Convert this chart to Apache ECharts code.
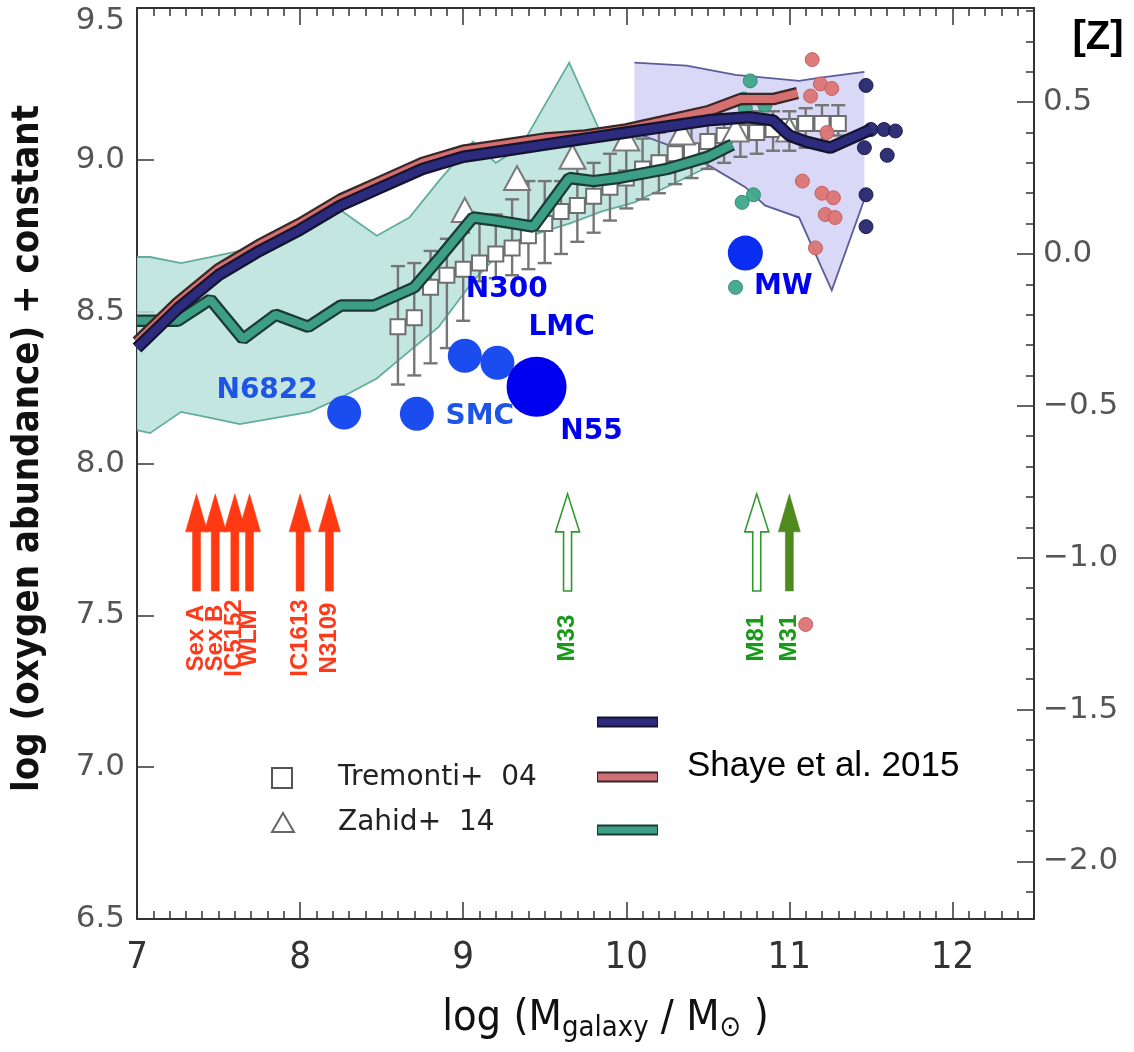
<!DOCTYPE html>
<html>
<head>
<meta charset="utf-8">
<script src="https://cdn.jsdelivr.net/npm/echarts@6.0.0/dist/echarts.min.js"></script>
<style>
  html, body { margin: 0; padding: 0; background: #fff; }
  #chart { width: 1134px; height: 1052px; }
</style>
</head>
<body>
<div id="chart"></div>
<script>
// ---------- axis ticks ----------
const massTicks = [7, 8, 9, 10, 11, 12];
const ohTicks = [6.5, 7.0, 7.5, 8.0, 8.5, 9.0, 9.5];
const zTicks = [-2.0, -1.5, -1.0, -0.5, 0.0, 0.5];
const SOLAR_OH = 8.69;            // [Z] = log(O/H)+12 - solar
const MASS_MIN = 7, MASS_MAX = 12.5;
const OH_MIN = 6.5, OH_MAX = 9.5;

// ---------- Shaye et al. 2015 relations ----------
const navyMass = [7.0, 7.25, 7.5, 7.75, 8.0, 8.25, 8.5, 8.75, 9.0, 9.25, 9.5, 9.75, 10.0, 10.25, 10.5, 10.75, 10.9, 11.0, 11.1, 11.25, 11.5];
const navyOH   = [8.38, 8.51, 8.62, 8.70, 8.77, 8.85, 8.91, 8.97, 9.01, 9.03, 9.05, 9.07, 9.09, 9.11, 9.13, 9.14, 9.13, 9.08, 9.06, 9.04, 9.10];

const pinkMass = [7.0, 7.25, 7.5, 7.75, 8.0, 8.25, 8.5, 8.75, 9.0, 9.25, 9.5, 9.75, 10.0, 10.25, 10.5, 10.7, 10.9, 11.05];
const pinkOH   = [8.40, 8.53, 8.64, 8.72, 8.79, 8.87, 8.93, 8.99, 9.03, 9.05, 9.07, 9.08, 9.10, 9.13, 9.16, 9.20, 9.20, 9.22];

const tealMass = [7.0, 7.25, 7.45, 7.65, 7.85, 8.05, 8.25, 8.45, 8.7, 8.86, 9.06, 9.2, 9.43, 9.65, 9.8, 9.95, 10.25, 10.5, 10.65];
const tealOH   = [8.47, 8.47, 8.54, 8.41, 8.49, 8.45, 8.52, 8.52, 8.58, 8.68, 8.81, 8.80, 8.78, 8.94, 8.93, 8.94, 8.97, 9.01, 9.05];

// scatter bands
const tealBandMass = [7.0, 7.08, 7.27, 7.45, 7.63, 7.85, 8.06, 8.26, 8.47, 8.67, 8.85, 9.06, 9.2, 9.35, 9.65, 9.85, 10.05, 10.4, 10.7];
const tealBandHi   = [8.68, 8.68, 8.66, 8.68, 8.70, 8.75, 8.79, 8.83, 8.75, 8.81, 8.93, 9.06, 8.99, 9.04, 9.32, 9.08, 9.09, 9.11, 9.13];
const tealBandLo   = [8.11, 8.10, 8.17, 8.15, 8.13, 8.15, 8.17, 8.22, 8.28, 8.37, 8.45, 8.60, 8.68, 8.74, 8.79, 8.83, 8.86, 8.95, 9.03];

const navyBandHiMass = [10.05, 10.37, 10.67, 11.06, 11.18, 11.46];
const navyBandHi     = [9.32, 9.31, 9.28, 9.26, 9.27, 9.29];
const navyBandLoMass = [10.05, 10.3, 10.51, 10.73, 10.85, 11.06, 11.26, 11.46];
const navyBandLo     = [9.09, 9.04, 8.98, 8.91, 8.85, 8.81, 8.57, 8.87];

// individual simulated galaxies
const tealDots = [[10.76, 9.26], [10.72, 9.20], [10.73, 9.17], [10.85, 9.18], [10.71, 8.86], [10.78, 8.885], [10.67, 8.58]];
const pinkDots = [[11.14, 9.33], [11.19, 9.25], [11.26, 9.235], [11.13, 9.21], [11.08, 8.93], [11.20, 8.89], [11.27, 8.875],
                  [11.22, 8.82], [11.28, 8.81], [11.16, 8.71], [11.10, 7.47], [11.23, 9.09]];
const navyDots = [[11.47, 9.245], [11.50, 9.10], [11.58, 9.10], [11.65, 9.095], [11.46, 9.04], [11.60, 9.015], [11.47, 8.885], [11.47, 8.78]];

// ---------- Tremonti+04 ----------
const tremontiMass = [8.6, 8.7, 8.8, 8.9, 9.0, 9.1, 9.2, 9.3, 9.4, 9.5, 9.6, 9.7, 9.8, 9.9, 10.0, 10.1, 10.2, 10.3, 10.4, 10.5, 10.6, 10.7, 10.8, 10.9, 11.0, 11.1, 11.2, 11.3];
const tremontiOH   = [8.45, 8.48, 8.58, 8.62, 8.64, 8.66, 8.69, 8.71, 8.75, 8.79, 8.83, 8.85, 8.88, 8.91, 8.94, 8.97, 8.99, 9.02, 9.03, 9.06, 9.08, 9.09, 9.09, 9.10, 9.11, 9.12, 9.12, 9.12];
const tremontiHi   = [8.65, 8.66, 8.70, 8.74, 8.76, 8.82, 8.82, 8.87, 8.93, 8.93, 8.93, 8.98, 8.99, 9.02, 9.04, 9.07, 9.09, 9.10, 9.12, 9.12, 9.14, 9.15, 9.16, 9.16, 9.16, 9.17, 9.18, 9.18];
const tremontiLo   = [8.26, 8.29, 8.33, 8.38, 8.47, 8.60, 8.61, 8.62, 8.64, 8.66, 8.69, 8.73, 8.76, 8.80, 8.84, 8.87, 8.89, 8.92, 8.94, 8.97, 8.99, 9.01, 9.02, 9.03, 9.03, 9.04, 9.06, 9.08];

// ---------- Zahid+14 ----------
const zahidMass = [9.01, 9.33, 9.67, 10.0, 10.34, 10.67, 11.0];
const zahidOH   = [8.835, 8.94, 9.01, 9.07, 9.09, 9.10, 9.10];

// ---------- Local Group / nearby galaxies ----------
const galaxyNames = ['N6822', 'SMC', 'N300', 'N55', 'LMC', 'MW'];
const galaxyMass  = [8.27, 8.716, 9.01, 9.21, 9.45, 10.73];
const galaxyOH    = [8.168, 8.164, 8.355, 8.332, 8.253, 8.693];

// ---------- lower limits (arrows) ----------
const limitNames = ['Sex A', 'Sex B', 'IC5152', 'WLM', 'IC1613', 'N3109', 'M33', 'M81', 'M31'];
const limitMass  = [7.365, 7.48, 7.60, 7.69, 8.0, 8.18, 9.64, 10.80, 11.0];
const limitKind  = ['red', 'red', 'red', 'red', 'red', 'red', 'open', 'open', 'solid'];
const limitBaseOH = 7.58;
const limitTipOH  = 7.90;

// ---------- styling ----------
const AXIS_COLOR = '#333';
const NARROW = '"Liberation Sans Narrow", "DejaVu Sans Condensed", "Liberation Sans", sans-serif';
const galaxyStyle = {
  'N6822': { size: 34, color: '#1a4cf0', text: '#1f55e4', offset: [-77, -22] },
  'SMC':   { size: 34, color: '#1a4cf0', text: '#1f55e4', offset: [63, 3] },
  'N300':  { size: 34, color: '#1a4cf0', text: '#0000f0', offset: [42, -66] },
  'N55':   { size: 34, color: '#1a4cf0', text: '#0000f0', offset: [94, 69] },
  'LMC':   { size: 60, color: '#0000f0', text: '#0000f0', offset: [25, -59] },
  'MW':    { size: 35, color: '#0a2df2', text: '#0000f0', offset: [38, 34] }
};
const limitStyle = {
  red:   { fill: '#ff3a12', stroke: '#ff3a12', text: '#ff3a1a' },
  open:  { fill: '#ffffff', stroke: '#2e9a2e', text: '#189a18' },
  solid: { fill: '#4e8a1e', stroke: '#4e8a1e', text: '#189a18' }
};

function range(a, b, step) {
  const out = [];
  const n = Math.round((b - a) / step);
  for (let i = 0; i <= n; i++) out.push(+(a + i * step).toFixed(4));
  return out;
}
const massMinor = range(7, 12.5, 0.1);
const zMinor = range(-2.1, 0.8, 0.1);

function xAxisDef(position, major) {
  return {
    type: 'value', position, min: MASS_MIN, max: MASS_MAX,
    axisLine: { show: major, onZero: false, lineStyle: { color: AXIS_COLOR, width: 2 } },
    axisTick: { show: true, inside: true, length: major ? 17 : 8,
      customValues: major ? massTicks : massMinor, lineStyle: { color: AXIS_COLOR, width: 1.5 } },
    axisLabel: { show: major && position === 'bottom', customValues: massTicks,
      formatter: v => String(v), margin: 20, color: '#333', fontFamily: NARROW, fontSize: 38 },
    splitLine: { show: false }
  };
}

const ohLabelFont = '"DejaVu Sans", sans-serif';

const option = {
  animation: false,
  backgroundColor: '#ffffff',
  grid: { left: 137, right: 100, top: 8, bottom: 133, containLabel: false },
  xAxis: [
    Object.assign(xAxisDef('bottom', true), {
      name: 'log (M{sub|galaxy} / M{sub|⊙} )', nameLocation: 'middle', nameGap: 76,
      nameTextStyle: {
        fontFamily: NARROW, fontSize: 43, color: '#111', padding: [0, 0, 0, 40], lineHeight: 48,
        rich: { sub: { fontSize: 29, verticalAlign: 'bottom', lineHeight: 34, color: '#111', fontFamily: NARROW } }
      }
    }),
    xAxisDef('bottom', false),
    xAxisDef('top', true),
    xAxisDef('top', false)
  ],
  yAxis: [
    {
      type: 'value', position: 'left', min: OH_MIN, max: OH_MAX,
      axisLine: { show: true, onZero: false, lineStyle: { color: AXIS_COLOR, width: 2 } },
      axisTick: { show: true, inside: true, length: 17, customValues: ohTicks, lineStyle: { color: AXIS_COLOR, width: 1.5 } },
      axisLabel: {
        customValues: ohTicks, margin: 12, color: '#555', fontFamily: ohLabelFont, fontSize: 31,
        formatter: v => (v === OH_MAX ? '{top|' + v.toFixed(1) + '}' : v.toFixed(1)),
        rich: { top: { padding: [26, 0, 0, 0], color: '#555', fontFamily: ohLabelFont, fontSize: 31 } }
      },
      splitLine: { show: false },
      name: 'log (oxygen abundance) + constant', nameLocation: 'middle', nameRotate: 90, nameGap: 90,
      nameTextStyle: { fontFamily: NARROW, fontWeight: 'bold', fontSize: 38, color: '#111', padding: [0, 0, 0, 30] }
    },
    {
      type: 'value', position: 'right', min: OH_MIN - SOLAR_OH, max: OH_MAX - SOLAR_OH,
      axisLine: { show: true, onZero: false, lineStyle: { color: AXIS_COLOR, width: 2 } },
      axisTick: { show: true, inside: true, length: 8, customValues: zMinor, lineStyle: { color: AXIS_COLOR, width: 1.5 } },
      axisLabel: { show: false },
      splitLine: { show: false }
    },
    {
      type: 'value', position: 'right', min: OH_MIN - SOLAR_OH, max: OH_MAX - SOLAR_OH,
      axisLine: { show: false, onZero: false },
      axisTick: { show: true, inside: true, length: 17, customValues: zTicks, lineStyle: { color: AXIS_COLOR, width: 1.5 } },
      axisLabel: {
        customValues: zTicks, margin: 9, color: '#555', fontFamily: ohLabelFont, fontSize: 31,
        formatter: v => v.toFixed(1).replace('-', '\u2212')
      },
      splitLine: { show: false }
    }
  ],
  graphic: [
    // [Z] header of the right axis
    { type: 'text', x: 1098, y: 38, style: { text: '[Z]', font: 'bold 40px "Liberation Sans", Arial, sans-serif', fill: '#000', align: 'center', verticalAlign: 'middle' } },
    // observational legend
    { type: 'rect', shape: { x: 272, y: 768, width: 20, height: 20 }, style: { fill: 'none', stroke: '#555', lineWidth: 2 } },
    { type: 'text', x: 338, y: 778, style: { text: 'Tremonti+  04', font: '28px "DejaVu Sans", sans-serif', fill: '#222', verticalAlign: 'middle' } },
    { type: 'polygon', shape: { points: [[283, 813], [272, 832], [294, 832]] }, style: { fill: 'none', stroke: '#666', lineWidth: 2 } },
    { type: 'text', x: 338, y: 823, style: { text: 'Zahid+  14', font: '28px "DejaVu Sans", sans-serif', fill: '#222', verticalAlign: 'middle' } },
    // simulation legend
    { type: 'line', shape: { x1: 597, y1: 722, x2: 658, y2: 722 }, style: { stroke: '#14142e', lineWidth: 11 } },
    { type: 'line', shape: { x1: 598, y1: 722, x2: 657, y2: 722 }, style: { stroke: '#2d2b7d', lineWidth: 7 } },
    { type: 'line', shape: { x1: 597, y1: 777, x2: 658, y2: 777 }, style: { stroke: '#3a2626', lineWidth: 11 } },
    { type: 'line', shape: { x1: 598, y1: 777, x2: 657, y2: 777 }, style: { stroke: '#cf6f76', lineWidth: 7 } },
    { type: 'line', shape: { x1: 597, y1: 830, x2: 658, y2: 830 }, style: { stroke: '#1c3a32', lineWidth: 11 } },
    { type: 'line', shape: { x1: 598, y1: 830, x2: 657, y2: 830 }, style: { stroke: '#3c9e84', lineWidth: 7 } },
    { type: 'text', x: 687, y: 766, style: { text: 'Shaye et al. 2015', font: '35px "Liberation Sans", Arial, sans-serif', fill: '#000', verticalAlign: 'middle' } }
  ],
  series: []
};

// filled band between an upper and lower boundary
function bandSeries(hiMass, hi, loMass, lo, fill, stroke) {
  return {
    type: 'custom', xAxisIndex: 0, yAxisIndex: 0, silent: true,
    data: [[hiMass[0], hi[0]]],
    renderItem: (params, api) => {
      const top = hiMass.map((m, i) => api.coord([m, hi[i]]));
      const bot = loMass.map((m, i) => api.coord([m, lo[i]]));
      return {
        type: 'group', children: [
          { type: 'polygon', shape: { points: top.concat(bot.slice().reverse()) }, style: { fill: fill } },
          { type: 'polyline', shape: { points: top }, style: { fill: null, stroke: stroke, lineWidth: 1.8 } },
          { type: 'polyline', shape: { points: bot }, style: { fill: null, stroke: stroke, lineWidth: 1.8 } }
        ]
      };
    }
  };
}

// thick relation drawn as an outlined ribbon
function ribbon(mass, oh, inner, outer) {
  const data = mass.map((m, i) => [m, oh[i]]);
  const base = { type: 'line', xAxisIndex: 0, yAxisIndex: 0, symbol: 'none', silent: true, data: data };
  return [
    Object.assign({}, base, { lineStyle: { color: outer, width: 12.5, opacity: 1 } }),
    Object.assign({}, base, { lineStyle: { color: inner, width: 8, opacity: 1 } })
  ];
}

function dots(points, color, border) {
  return {
    type: 'scatter', xAxisIndex: 0, yAxisIndex: 0, symbolSize: 14, data: points,
    itemStyle: { color: color, borderColor: border, borderWidth: 1, opacity: 0.95 }
  };
}

const S = option.series;
S.push(bandSeries(tealBandMass, tealBandHi, tealBandMass, tealBandLo, 'rgba(186,226,218,0.85)', '#62ad9b'));
S.push(bandSeries(navyBandHiMass, navyBandHi, navyBandLoMass, navyBandLo, 'rgba(214,214,246,0.92)', '#5c5c98'));
S.push(...ribbon(tealMass, tealOH, '#3c9e84', '#1c3a32'));
S.push(...ribbon(pinkMass, pinkOH, '#d4706f', '#3a2626'));
S.push(...ribbon(navyMass, navyOH, '#2d2b7d', '#14142e'));

// Tremonti+04 error bars
S.push({
  type: 'custom', xAxisIndex: 0, yAxisIndex: 0, silent: true,
  data: tremontiMass.map((m, i) => [m, tremontiLo[i], tremontiHi[i]]),
  encode: { x: 0, y: [1, 2] },
  renderItem: (params, api) => {
    const x = api.value(0);
    const lo = api.coord([x, api.value(1)]);
    const hi = api.coord([x, api.value(2)]);
    const cap = 7, st = { stroke: '#767676', lineWidth: 2.4 };
    return {
      type: 'group', children: [
        { type: 'line', shape: { x1: lo[0], y1: lo[1], x2: hi[0], y2: hi[1] }, style: st },
        { type: 'line', shape: { x1: lo[0] - cap, y1: lo[1], x2: lo[0] + cap, y2: lo[1] }, style: st },
        { type: 'line', shape: { x1: hi[0] - cap, y1: hi[1], x2: hi[0] + cap, y2: hi[1] }, style: st }
      ]
    };
  }
});
S.push({
  type: 'scatter', xAxisIndex: 0, yAxisIndex: 0, symbol: 'rect', symbolSize: 15,
  data: tremontiMass.map((m, i) => [m, tremontiOH[i]]),
  itemStyle: { color: '#ffffff', borderColor: '#6e6e6e', borderWidth: 2, opacity: 1 }
});
S.push({
  type: 'scatter', xAxisIndex: 0, yAxisIndex: 0, symbol: 'triangle', symbolSize: [26, 24],
  data: zahidMass.map((m, i) => [m, zahidOH[i]]),
  itemStyle: { color: '#ffffff', borderColor: '#7a7a7a', borderWidth: 2, opacity: 1 }
});

S.push(dots(tealDots, '#3fa88a', '#2f8a70'));
S.push(dots(pinkDots, '#dc7474', '#c25c5c'));
S.push(dots(navyDots, '#26266f', '#1a1a50'));

// nearby galaxies
S.push({
  type: 'scatter', xAxisIndex: 0, yAxisIndex: 0, symbol: 'circle',
  data: galaxyNames.map((n, i) => {
    const st = galaxyStyle[n];
    return {
      name: n, value: [galaxyMass[i], galaxyOH[i]], symbolSize: st.size,
      itemStyle: { color: st.color, opacity: 1 },
      label: { show: true, position: 'inside', offset: st.offset, formatter: '{b}', color: st.text, opacity: 1,
        fontFamily: '"DejaVu Sans", sans-serif', fontWeight: 'bold', fontSize: 28 }
    };
  })
});

// lower-limit arrows with rotated labels
S.push({
  type: 'custom', xAxisIndex: 0, yAxisIndex: 0, silent: true,
  data: limitMass.map((m, i) => [m, limitBaseOH, limitTipOH]),
  encode: { x: 0, y: [1, 2] },
  renderItem: (params, api) => {
    const i = params.dataIndex;
    const st = limitStyle[limitKind[i]];
    const base = api.coord([api.value(0), api.value(1)]);
    const tip = api.coord([api.value(0), api.value(2)]);
    const cx = base[0];
    const headLen = 38, headW = limitKind[i] === 'open' ? 24 : 22, shaftW = 8;
    const yh = tip[1] + headLen;
    const pts = [
      [cx, tip[1]], [cx + headW / 2, yh], [cx + shaftW / 2, yh], [cx + shaftW / 2, base[1]],
      [cx - shaftW / 2, base[1]], [cx - shaftW / 2, yh], [cx - headW / 2, yh]
    ];
    return {
      type: 'group', children: [
        { type: 'polygon', shape: { points: pts }, style: { fill: st.fill, stroke: st.stroke, lineWidth: limitKind[i] === 'open' ? 1.6 : 0.5 } },
        { type: 'text', x: cx, y: base[1] + 47, rotation: Math.PI / 2,
          style: { text: limitNames[i], fill: st.text, font: 'bold 24px "Liberation Sans", Arial, sans-serif', align: 'center', verticalAlign: 'middle' } }
      ]
    };
  }
});

const chart = echarts.init(document.getElementById('chart'), null, { renderer: 'canvas' });
chart.setOption(option);
</script>
</body>
</html>
